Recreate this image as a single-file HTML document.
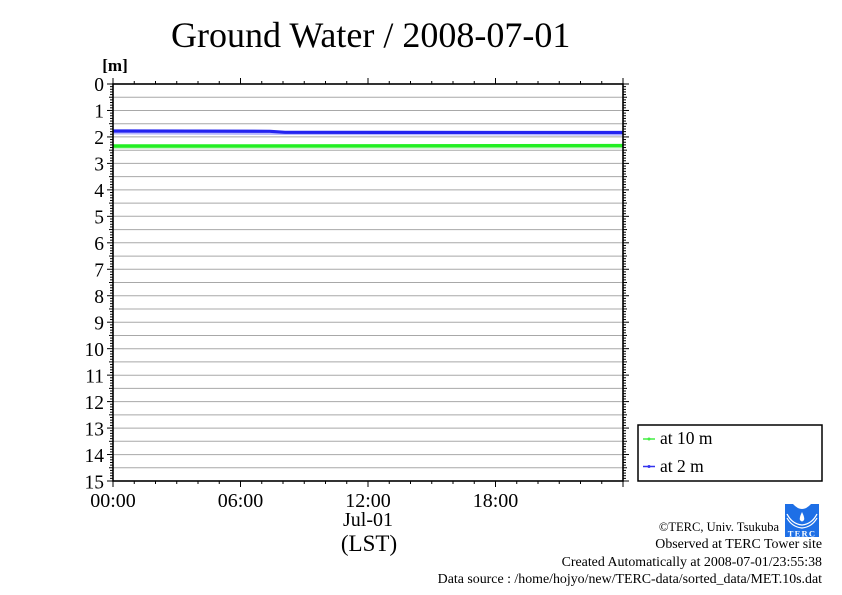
<!DOCTYPE html>
<html><head><meta charset="utf-8"><style>
html,body{margin:0;padding:0;background:#fff;}
svg{display:block;}
text{font-family:"Liberation Serif","DejaVu Serif",serif;fill:#000;}
</style></head><body>
<svg width="842" height="595" viewBox="0 0 842 595" xmlns="http://www.w3.org/2000/svg">
<rect x="0" y="0" width="842" height="595" fill="#fff"/>
<text x="171" y="47" font-size="36">Ground Water / 2008-07-01</text>
<text x="115" y="71" font-size="17" font-weight="bold" text-anchor="middle">[m]</text>
<g stroke="#a8a8a8" stroke-width="1">
<line x1="113" x2="623" y1="97.2" y2="97.2"/><line x1="113" x2="623" y1="110.5" y2="110.5"/>
<line x1="113" x2="623" y1="123.7" y2="123.7"/><line x1="113" x2="623" y1="136.9" y2="136.9"/>
<line x1="113" x2="623" y1="150.2" y2="150.2"/><line x1="113" x2="623" y1="163.4" y2="163.4"/>
<line x1="113" x2="623" y1="176.6" y2="176.6"/><line x1="113" x2="623" y1="189.9" y2="189.9"/>
<line x1="113" x2="623" y1="203.1" y2="203.1"/><line x1="113" x2="623" y1="216.3" y2="216.3"/>
<line x1="113" x2="623" y1="229.6" y2="229.6"/><line x1="113" x2="623" y1="242.8" y2="242.8"/>
<line x1="113" x2="623" y1="256.1" y2="256.1"/><line x1="113" x2="623" y1="269.3" y2="269.3"/>
<line x1="113" x2="623" y1="282.5" y2="282.5"/><line x1="113" x2="623" y1="295.8" y2="295.8"/>
<line x1="113" x2="623" y1="309.0" y2="309.0"/><line x1="113" x2="623" y1="322.2" y2="322.2"/>
<line x1="113" x2="623" y1="335.5" y2="335.5"/><line x1="113" x2="623" y1="348.7" y2="348.7"/>
<line x1="113" x2="623" y1="361.9" y2="361.9"/><line x1="113" x2="623" y1="375.2" y2="375.2"/>
<line x1="113" x2="623" y1="388.4" y2="388.4"/><line x1="113" x2="623" y1="401.6" y2="401.6"/>
<line x1="113" x2="623" y1="414.9" y2="414.9"/><line x1="113" x2="623" y1="428.1" y2="428.1"/>
<line x1="113" x2="623" y1="441.3" y2="441.3"/><line x1="113" x2="623" y1="454.6" y2="454.6"/>
<line x1="113" x2="623" y1="467.8" y2="467.8"/>
</g>
<!-- series -->
<polyline points="113,133.5 280,134 623,134.8" fill="none" stroke="#b8b8ff" stroke-width="2"/>
<polyline points="113,131 270,131.3 285,132.3 623,132.5" fill="none" stroke="#2323f0" stroke-width="3.2"/>
<polyline points="113,147.8 623,147.5" fill="none" stroke="#b8f5b8" stroke-width="2"/>
<polyline points="113,146 623,145.6" fill="none" stroke="#22ee22" stroke-width="3.4"/>
<!-- ticks -->
<g id="ticks" stroke="#000" stroke-width="1"></g>
<rect x="113" y="84" width="510" height="397" fill="none" stroke="#000" stroke-width="1.6"/>
<g font-size="19.5" text-anchor="end">
<text x="104" y="91">0</text><text x="104" y="117.5">1</text><text x="104" y="144">2</text>
<text x="104" y="170.5">3</text><text x="104" y="197">4</text><text x="104" y="223.5">5</text>
<text x="104" y="250">6</text><text x="104" y="276.5">7</text><text x="104" y="303">8</text>
<text x="104" y="329.5">9</text><text x="104" y="356">10</text><text x="104" y="382.5">11</text>
<text x="104" y="409">12</text><text x="104" y="435.5">13</text><text x="104" y="462">14</text>
<text x="104" y="488.5">15</text>
</g>
<g font-size="20" text-anchor="middle">
<text x="113" y="507">00:00</text><text x="240.5" y="507">06:00</text>
<text x="368" y="507">12:00</text><text x="495.5" y="507">18:00</text>
<text x="368" y="526">Jul-01</text>
</g>
<text x="369" y="551" font-size="23" text-anchor="middle">(LST)</text>
<!-- legend -->
<rect x="638" y="425" width="184" height="56" fill="#fff" stroke="#000" stroke-width="1.5"/>
<line x1="643" x2="655" y1="439" y2="439" stroke="#44ee44" stroke-width="1.5"/>
<circle cx="649" cy="439" r="1.5" fill="#44ee44"/>
<line x1="643" x2="655" y1="466.5" y2="466.5" stroke="#3333ee" stroke-width="1.5"/>
<circle cx="649" cy="466.5" r="1.5" fill="#3333ee"/>
<text x="660" y="444" font-size="17.5">at 10 m</text>
<text x="660" y="472" font-size="17.5">at 2 m</text>
<!-- logo -->
<g>
<rect x="785" y="504" width="34" height="33" fill="#1e6fe6"/>
<path d="M793,504 Q802,514 811,504 Z" fill="#fff"/>
<path d="M802,512 Q799,518 800,520 Q802,523 804,520 Q805,518 802,512 Z" fill="#fff"/>
<path d="M787,514 Q792,524 802,525 Q812,524 817,514" fill="none" stroke="#fff" stroke-width="1.3"/>
<path d="M787,518 Q792,527 802,528 Q812,527 817,518" fill="none" stroke="#fff" stroke-width="1.2"/>
<text x="802" y="536.5" font-size="8.5" font-family="Liberation Sans, sans-serif" font-weight="bold" text-anchor="middle" style="fill:#fff" letter-spacing="1.2">TERC</text>
</g>
<g font-size="13.9" text-anchor="end">
<text x="779" y="531" font-size="12.5">©TERC, Univ. Tsukuba</text>
<text x="822" y="548">Observed at TERC Tower site</text>
<text x="822" y="566">Created Automatically at 2008-07-01/23:55:38</text>
<text x="822" y="583">Data source : /home/hojyo/new/TERC-data/sorted_data/MET.10s.dat</text>
</g>
<script>
(function(){
var g=document.getElementById('ticks'),ns='http://www.w3.org/2000/svg';
function L(a,b,c,d){var l=document.createElementNS(ns,'line');l.setAttribute('x1',a);l.setAttribute('y1',b);l.setAttribute('x2',c);l.setAttribute('y2',d);g.appendChild(l);}
var y0=84,h=397;
for(var i=0;i<=150;i++){var y=y0+h*i/150;var len=(i%10==0)?6:(i%5==0?4:3);L(113-len,y,113,y);L(623,y,623+len,y);}
for(var j=0;j<=24;j++){var x=113+510*j/24;var len=(j%6==0)?6:3;L(x,84,x,84-len);L(x,481,x,481+len);}
})();
</script>
</svg>
</body></html>
